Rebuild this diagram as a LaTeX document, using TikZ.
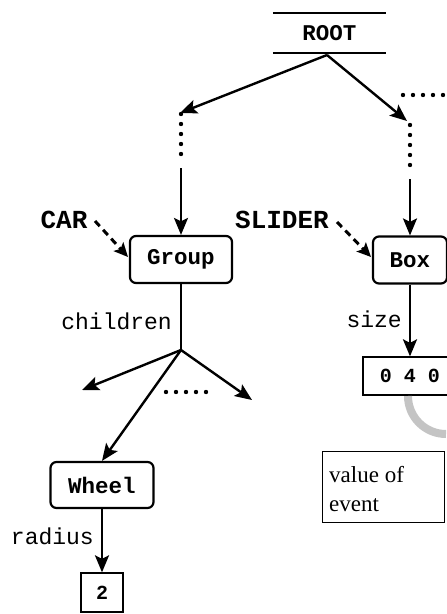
\documentclass[tikz,border=0pt]{standalone}
\usepackage{fontspec}
\setmainfont{Liberation Serif}
\setmonofont{Liberation Mono}
\usetikzlibrary{arrows.meta}
\tikzset{
  arr/.style={-{Stealth[length=17pt,width=14pt,inset=3.5pt]}, line width=2.4pt},
  darr/.style={-{Stealth[length=14pt,width=13pt,inset=3pt]}, line width=3pt, dash pattern=on 7pt off 5pt},
  dotline/.style={line width=4.4pt, line cap=round, dash pattern=on 0pt off 10pt},
  obj/.style={draw, line width=2.2pt, rounded corners=6pt, font=\fontsize{22.5}{24}\selectfont\ttfamily\bfseries, inner sep=0pt},
  val/.style={draw, line width=1.3pt, font=\fontsize{20}{22}\selectfont\ttfamily\bfseries, inner sep=0pt},
  lbl/.style={font=\fontsize{23}{25}\selectfont\ttfamily, inner sep=0pt},
  big/.style={font=\fontsize{26}{28}\selectfont\ttfamily\bfseries, inner sep=0pt}
}
\begin{document}
\begin{tikzpicture}[x=1pt,y=-1pt]
\useasboundingbox (0,0) rectangle (447,614);
\clip (0,0) rectangle (447,614);
% ROOT
\node[font=\fontsize{22.5}{24}\selectfont\ttfamily\bfseries, minimum width=113pt, minimum height=40pt, inner sep=0pt] (root) at (329.5,33) {ROOT};
\draw[line width=2.2pt] (root.north west) -- (root.north east);
\draw[line width=2.2pt] (root.south west) -- (root.south east);
\coordinate (apex) at (327,55);
% left branch
\coordinate (lt) at (180,113);
\coordinate (ld1) at (181,114);
\coordinate (ld2) at (181,155);
\coordinate (ls) at (181,168);
% right branch
\coordinate (rt) at (407,121);
\coordinate (rd1) at (410,125);
\coordinate (rd2) at (410,166);
\coordinate (rs) at (410,179);
\coordinate (hd1) at (403,95);
\coordinate (hd2) at (444,95);
% nodes
\node[obj, minimum width=102pt, minimum height=47pt] (group) at (181,259.5) {Group};
\node[obj, minimum width=74pt, minimum height=47pt] (box) at (410,260) {Box};
\node[obj, minimum width=103pt, minimum height=46pt] (wheel) at (102,485) {Wheel};
\node[val, minimum width=42pt, minimum height=39pt] (two) at (102,592.5) {2};
\node[val, minimum width=94pt, minimum height=38pt] (vec) at (410,376) {0 4 0};
\node[big, anchor=base] (car) at (64,228) {CAR};
\node[big, anchor=base] (slider) at (282,228) {SLIDER};
\node[draw, line width=1pt, minimum width=122pt, minimum height=71pt, inner sep=0pt] (event) at (383,486.5) {};
\node[anchor=base west, font=\fontsize{23}{30}\selectfont, inner sep=0pt] (evtxt1) at (329,482) {value of};
\node[anchor=base west, font=\fontsize{23}{30}\selectfont, inner sep=0pt] (evtxt2) at (329,511) {event};
% labels
\node[lbl, anchor=base east] (children) at (172,329) {children};
\node[lbl, anchor=base east] (size) at (402,327) {size};
\node[lbl, anchor=base east] (radius) at (94,544) {radius};
% connectors
\draw[arr] (apex) -- (lt);
\draw[arr] (apex) -- (rt);
\draw[dotline] (ld1) -- (ld2);
\draw[dotline] (rd1) -- (rd2);
\draw[dotline] (hd1) -- (hd2);
\draw[arr] (ls) -- (group.north);
\draw[arr] (rs) -- (box.north);
\draw[darr] (95,221) -- (128,257);
\draw[darr] (337,222) -- (371,257);
\coordinate (branch) at (181,350);
\draw[line width=2.4pt] (group.south) -- (branch);
\coordinate (c1) at (82,390);
\coordinate (c3) at (252,400);
\draw[arr] (branch) -- (c1);
\draw[arr] (branch) -- (wheel.north);
\draw[arr] (branch) -- (c3);
\coordinate (bd1) at (166,392);
\coordinate (bd2) at (207,392);
\draw[dotline] (bd1) -- (bd2);
\draw[arr] (box.south) -- (vec.north);
\draw[arr] (wheel.south) -- (two.north);
% grey arc
\draw[line width=8pt, color={rgb,255:red,196;green,196;blue,196}] (408,396) arc[start angle=180, end angle=90, radius=38];
\end{tikzpicture}
\end{document}
